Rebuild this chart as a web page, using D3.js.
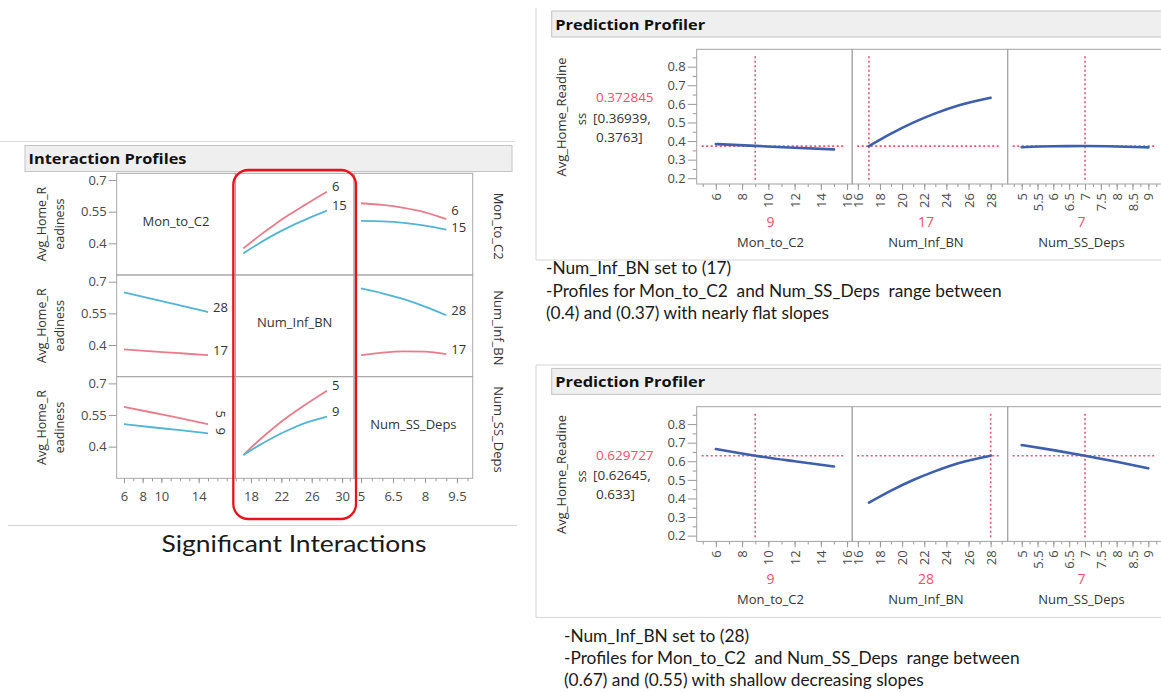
<!DOCTYPE html>
<html>
<head>
<meta charset="utf-8">
<script src="https://cdn.jsdelivr.net/npm/d3@7"></script>
<style>
  body { margin: 0; background: #fff; }
  svg { display: block; }
</style>
</head>
<body>
<script>
//---------------- DATA ----------------
// Interaction Profiles (left)
var ipFactors = ["Mon_to_C2", "Num_Inf_BN", "Num_SS_Deps"];
var ipLevels = [["6", "15"], ["17", "28"], ["5", "9"]];   // low level (red), high level (blue)
var ipDomX = [[5.22, 17.93], [15.95, 31.57], [4.67, 10.24]];
var ipTicksX = [[6, 8, 10, 14], [18, 22, 26, 30], [5, 6.5, 8, 9.5]];
var ipDomY = [0.25, 0.732];
var ipTicksY = [0.4, 0.55, 0.7];

// row Mon_to_C2 : traces at Mon_to_C2 = 6 / 15
var mon6_vsInf  = [[17, 0.376], [19, 0.433], [21, 0.486], [23, 0.535], [25, 0.58], [28, 0.645]];
var mon15_vsInf = [[17, 0.353], [19, 0.398], [21, 0.44], [23, 0.477], [25, 0.51], [28, 0.555]];
var mon6_vsSS   = [[5, 0.59], [6, 0.582], [7, 0.568], [8, 0.547], [9, 0.515]];
var mon15_vsSS  = [[5, 0.506], [6, 0.504], [7, 0.497], [8, 0.484], [9, 0.465]];
// row Num_Inf_BN : traces at Num_Inf_BN = 17 / 28
var inf17_vsMon = [[6, 0.379], [9, 0.37], [12, 0.361], [15, 0.352]];
var inf28_vsMon = [[6, 0.649], [9, 0.619], [12, 0.588], [15, 0.556]];
var inf17_vsSS  = [[5, 0.352], [6, 0.364], [7, 0.37], [8, 0.369], [9, 0.357]];
var inf28_vsSS  = [[5, 0.668], [6, 0.645], [7, 0.617], [8, 0.582], [9, 0.541]];
// row Num_SS_Deps : traces at Num_SS_Deps = 5 / 9
var ss5_vsMon = [[6, 0.589], [9, 0.562], [12, 0.535], [15, 0.507]];
var ss9_vsMon = [[6, 0.507], [9, 0.492], [12, 0.478], [15, 0.463]];
var ss5_vsInf = [[17, 0.36], [19, 0.428], [21, 0.49], [23, 0.545], [25, 0.595], [28, 0.665]];
var ss9_vsInf = [[17, 0.36], [19, 0.405], [21, 0.445], [23, 0.48], [25, 0.51], [28, 0.542]];

// Prediction Profilers (right)
var pfDomX = [[4.54, 16.39], [15.49, 29.54], [4.558, 9.47]];
var pfTicksX = [[6, 8, 10, 12, 14, 16], [16, 18, 20, 22, 24, 26, 28], [5, 5.5, 6, 6.5, 7, 7.5, 8, 8.5, 9]];
var pfDomY = [0.169, 0.8935];
var pfTicksY = [0.2, 0.3, 0.4, 0.5, 0.6, 0.7, 0.8];

var p1Settings = [9, 17, 7];
var p1Pred = 0.372845;
var p1CI = ["[0.36939,", "0.3763]"];
var p1Mon = [[6, 0.384], [9, 0.374], [12, 0.364], [15, 0.355]];
var p1Inf = [[17, 0.373], [19, 0.44], [21, 0.499], [23, 0.549], [25, 0.59], [28, 0.633]];
var p1SS  = [[5, 0.367], [6, 0.372], [7, 0.373], [8, 0.371], [9, 0.366]];
var p1Notes = ["-Num_Inf_BN set to (17)",
               "-Profiles for Mon_to_C2  and Num_SS_Deps  range between",
               "(0.4) and (0.37) with nearly flat slopes"];

var p2Settings = [9, 28, 7];
var p2Pred = 0.629727;
var p2CI = ["[0.62645,", "0.633]"];
var p2Mon = [[6, 0.666], [9, 0.63], [12, 0.6], [15, 0.572]];
var p2Inf = [[17, 0.377], [19, 0.442], [21, 0.499], [23, 0.547], [25, 0.588], [28, 0.63]];
var p2SS  = [[5, 0.687], [6, 0.66], [7, 0.63], [8, 0.597], [9, 0.562]];
var p2Notes = ["-Num_Inf_BN set to (28)",
               "-Profiles for Mon_to_C2  and Num_SS_Deps  range between",
               "(0.67) and (0.55) with shallow decreasing slopes"];

var caption = "Significant Interactions";

//---------------- STYLE ----------------
var FONT = "'Open Sans', 'Noto Sans', sans-serif";
var NOTE_FONT = "Lato, 'Open Sans', sans-serif";
var RED = "#e97c8b", BLUE = "#52b5d4";
var PF_RED = "#f0506e", PF_BLUE = "#3d5fae";

var svg = d3.select("body").append("svg")
    .attr("width", 1161)
    .attr("height", 692)
    .attr("font-family", FONT);

function hline(g, x1, x2, y, col) {
  g.append("line").attr("x1", x1).attr("x2", x2).attr("y1", y).attr("y2", y).attr("stroke", col);
}
function vline(g, x, y1, y2, col) {
  g.append("line").attr("x1", x).attr("x2", x).attr("y1", y1).attr("y2", y2).attr("stroke", col);
}
function titleBar(g, x, y, w, h, label, tl) {
  g.append("rect").attr("x", x).attr("y", y).attr("width", w).attr("height", h)
    .attr("fill", "#efefef").attr("stroke", "#c4c4c4");
  g.append("text").attr("x", x + 3.5).attr("y", y + h - 7.5)
    .attr("font-size", 15).attr("font-weight", "bold").attr("fill", "#111")
    .attr("textLength", tl).attr("lengthAdjust", "spacingAndGlyphs")
    .text(label);
}

//---------------- INTERACTION PROFILES ----------------
var ipL = 116.7, ipT = 173.3, ipCW = 118.67, ipRH = 101.67;
var ipX = ipDomX.map(function (dom, c) {
  return d3.scaleLinear().domain(dom).range([ipL + c * ipCW, ipL + (c + 1) * ipCW]);
});
var ipY = [0, 1, 2].map(function (r) {
  return d3.scaleLinear().domain(ipDomY).range([ipT + (r + 1) * ipRH, ipT + r * ipRH]);
});

var g1 = svg.append("g");
hline(g1, 0, 515, 141.5, "#dcdcdc");
hline(g1, 8, 517, 525.5, "#d4d4d4");
titleBar(g1, 25, 145.5, 487, 26, "Interaction Profiles", 158);

// cells
for (var r = 0; r < 3; r++) {
  for (var c = 0; c < 3; c++) {
    g1.append("rect")
      .attr("x", ipL + c * ipCW).attr("y", ipT + r * ipRH)
      .attr("width", ipCW).attr("height", ipRH)
      .attr("fill", "none").attr("stroke", "#a9a9a9");
  }
}

// diagonal factor names + right side names
ipFactors.forEach(function (f, i) {
  g1.append("text")
    .attr("x", ipL + (i + 0.5) * ipCW).attr("y", ipT + (i + 0.5) * ipRH - 2)
    .attr("text-anchor", "middle").attr("dominant-baseline", "middle")
    .attr("font-size", 13).attr("fill", "#333").text(f);
  g1.append("text")
    .attr("transform", "translate(497," + (ipT + (i + 0.5) * ipRH + 2) + ") rotate(90)")
    .attr("text-anchor", "middle").attr("dominant-baseline", "middle")
    .attr("font-size", 13).attr("fill", "#333").text(f);
});

// y axes + titles
ipY.forEach(function (y, r) {
  var ax = g1.append("g")
    .attr("transform", "translate(" + ipL + ",0)")
    .call(d3.axisLeft(y).tickValues(ipTicksY).tickSize(8).tickPadding(2).tickFormat(d3.format("")));
  ax.attr("font-family", FONT).attr("font-size", 13);
  ax.select(".domain").remove();
  ax.selectAll("line").attr("stroke", "#9a9a9a");
  ax.selectAll("text").attr("fill", "#4a4a4a");
  var cy = ipT + (r + 0.5) * ipRH;
  g1.append("text").attr("transform", "translate(43," + cy + ") rotate(-90)")
    .attr("text-anchor", "middle").attr("dominant-baseline", "middle")
    .attr("font-size", 12.5).attr("fill", "#333").text("Avg_Home_R");
  g1.append("text").attr("transform", "translate(61," + cy + ") rotate(-90)")
    .attr("text-anchor", "middle").attr("dominant-baseline", "middle")
    .attr("font-size", 12.5).attr("fill", "#333").text("eadiness");
});

// x axes along the bottom
var ipMinorStep = [1, 1, 0.5];
ipX.forEach(function (x, c) {
  var bottom = ipT + 3 * ipRH;
  var dom = x.domain();
  var minor = d3.range(Math.ceil(dom[0] / ipMinorStep[c]) * ipMinorStep[c], dom[1], ipMinorStep[c]);
  var mx = g1.append("g").attr("transform", "translate(0," + bottom + ")")
    .call(d3.axisBottom(x).tickValues(minor).tickSize(3).tickFormat(""));
  mx.select(".domain").remove();
  mx.selectAll("line").attr("stroke", "#9a9a9a");
  var ax = g1.append("g").attr("transform", "translate(0," + bottom + ")")
    .call(d3.axisBottom(x).tickValues(ipTicksX[c]).tickSize(5).tickPadding(8).tickFormat(d3.format("")));
  ax.attr("font-family", FONT).attr("font-size", 13);
  ax.select(".domain").remove();
  ax.selectAll("line").attr("stroke", "#9a9a9a");
  ax.selectAll("text").attr("fill", "#4a4a4a");
});

// traces
var ipTraces = [
  { r: 0, c: 1, lo: mon6_vsInf,  hi: mon15_vsInf },
  { r: 0, c: 2, lo: mon6_vsSS,   hi: mon15_vsSS },
  { r: 1, c: 0, lo: inf17_vsMon, hi: inf28_vsMon },
  { r: 1, c: 2, lo: inf17_vsSS,  hi: inf28_vsSS },
  { r: 2, c: 0, lo: ss5_vsMon,   hi: ss9_vsMon },
  { r: 2, c: 1, lo: ss5_vsInf,   hi: ss9_vsInf }
];
ipTraces.forEach(function (t) {
  var x = ipX[t.c], y = ipY[t.r];
  var line = d3.line()
    .x(function (d) { return x(d[0]); })
    .y(function (d) { return y(d[1]); })
    .curve(d3.curveMonotoneX);
  var series = [[t.lo, RED, ipLevels[t.r][0]], [t.hi, BLUE, ipLevels[t.r][1]]];
  // end label positions, pushed apart when the two ends are too close
  var ends = series.map(function (s) {
    var last = s[0][s[0].length - 1];
    return { x: x(last[0]) + 5, y: y(last[1]) - 4 };
  });
  var gap = Math.abs(ends[0].y - ends[1].y), minGap = 17;
  if (gap < minGap) {
    var up = ends[0].y < ends[1].y ? 0 : 1, push = (minGap - gap) / 2;
    ends[up].y -= push;
    ends[1 - up].y += push;
  }
  series.forEach(function (s, i) {
    g1.append("path").attr("d", line(s[0]))
      .attr("fill", "none").attr("stroke", s[1]).attr("stroke-width", 1.8);
    var lx = ends[i].x, ly = ends[i].y;
    var lab = g1.append("text").attr("font-size", 13).attr("fill", "#333")
      .attr("dominant-baseline", "middle").text(s[2]);
    if (t.r === 2 && t.c === 0) {
      lab.attr("text-anchor", "middle")
        .attr("transform", "translate(" + (lx + 6) + "," + (ly - 2) + ") rotate(90)");
    } else {
      lab.attr("x", lx).attr("y", ly);
    }
  });
});

// highlight box
g1.append("rect")
  .attr("x", 233.3).attr("y", 170).attr("width", 122.7).attr("height", 349)
  .attr("rx", 15).attr("ry", 15)
  .attr("fill", "none").attr("stroke", "#e8141c").attr("stroke-width", 2.3);

g1.append("text")
  .attr("x", 294).attr("y", 552)
  .attr("text-anchor", "middle")
  .attr("font-family", NOTE_FONT).attr("font-size", 24).attr("fill", "#1a1a1a")
  .attr("textLength", 265).attr("lengthAdjust", "spacingAndGlyphs")
  .text(caption);

//---------------- PREDICTION PROFILERS ----------------
var pfL = 696.7, pfCW = 155.5;

function drawProfiler(oy, settings, pred, ci, curves, showTop) {
  var g = svg.append("g");
  var top = 49.3 + oy, bot = 184 + oy;

  // outer frame
  if (showTop) hline(g, 536, 1161, 7.6 + oy, "#d4d4d4");
  vline(g, 536, 7.6 + oy, 260 + oy, "#d4d4d4");
  hline(g, 536, 1161, 260 + oy, "#d4d4d4");
  titleBar(g, 551.7, 11 + oy, 640, 26, "Prediction Profiler", 150);

  var y = d3.scaleLinear().domain(pfDomY).range([bot, top]);
  var xs = pfDomX.map(function (dom, c) {
    return d3.scaleLinear().domain(dom).range([pfL + c * pfCW, pfL + (c + 1) * pfCW]);
  });

  // y axis
  var my = g.append("g").attr("transform", "translate(" + pfL + ",0)")
    .call(d3.axisLeft(y).tickValues(d3.range(0.25, 0.86, 0.1)).tickSize(4).tickFormat(""));
  my.select(".domain").remove();
  my.selectAll("line").attr("stroke", "#9a9a9a");
  var ay = g.append("g").attr("transform", "translate(" + pfL + ",0)")
    .call(d3.axisLeft(y).tickValues(pfTicksY).tickSize(9).tickPadding(2).tickFormat(d3.format(".1f")));
  ay.attr("font-family", FONT).attr("font-size", 13);
  ay.select(".domain").remove();
  ay.selectAll("line").attr("stroke", "#9a9a9a");
  ay.selectAll("text").attr("fill", "#4a4a4a");

  // y title and prediction
  g.append("text").attr("transform", "translate(563," + (117 + oy) + ") rotate(-90)")
    .attr("text-anchor", "middle").attr("dominant-baseline", "middle")
    .attr("font-size", 13).attr("fill", "#333").text("Avg_Home_Readine");
  g.append("text").attr("transform", "translate(583," + (119 + oy) + ") rotate(-90)")
    .attr("text-anchor", "middle").attr("dominant-baseline", "middle")
    .attr("font-size", 13).attr("fill", "#333").text("ss");
  g.append("text").attr("x", 596).attr("y", 98.5 + oy).attr("dominant-baseline", "middle")
    .attr("font-size", 13.5).attr("fill", PF_RED).text(d3.format(".6f")(pred));
  g.append("text").attr("x", 593).attr("y", 119 + oy).attr("dominant-baseline", "middle")
    .attr("font-size", 13.5).attr("fill", "#333").text(ci[0]);
  g.append("text").attr("x", 596).attr("y", 138 + oy).attr("dominant-baseline", "middle")
    .attr("font-size", 13.5).attr("fill", "#333").text(ci[1]);

  xs.forEach(function (x, c) {
    var x0 = pfL + c * pfCW, x1 = x0 + pfCW;
    g.append("rect").attr("x", x0).attr("y", top).attr("width", pfCW).attr("height", bot - top)
      .attr("fill", "none").attr("stroke", "#a3a3a3");

    // x axis
    var ticks = pfTicksX[c];
    var step = (ticks[1] - ticks[0]) / 2;
    var dom = x.domain();
    var minor = d3.range(Math.ceil(dom[0] / step) * step, dom[1], step);
    var mx = g.append("g").attr("transform", "translate(0," + bot + ")")
      .call(d3.axisBottom(x).tickValues(minor).tickSize(3).tickFormat(""));
    mx.select(".domain").remove();
    mx.selectAll("line").attr("stroke", "#9a9a9a");
    var ax = g.append("g").attr("transform", "translate(0," + bot + ")")
      .call(d3.axisBottom(x).tickValues(ticks).tickSize(6).tickFormat(d3.format("")));
    ax.attr("font-family", FONT).attr("font-size", 13);
    ax.select(".domain").remove();
    ax.selectAll("line").attr("stroke", "#9a9a9a");
    ax.selectAll("text")
      .attr("transform", "rotate(-90)")
      .attr("text-anchor", "end")
      .attr("x", -9).attr("y", 0).attr("dy", "0.35em")
      .attr("fill", "#4a4a4a");

    // reference lines
    g.append("line").attr("x1", x0 + 5).attr("x2", x1 - 8)
      .attr("y1", y(pred)).attr("y2", y(pred))
      .attr("stroke", PF_RED).attr("stroke-width", 1.6).attr("stroke-dasharray", "2,2.5");
    g.append("line").attr("x1", x(settings[c])).attr("x2", x(settings[c]))
      .attr("y1", top + 7).attr("y2", bot - 2)
      .attr("stroke", PF_RED).attr("stroke-width", 1.6).attr("stroke-dasharray", "2,2.5");

    // profile trace
    var line = d3.line()
      .x(function (d) { return x(d[0]); })
      .y(function (d) { return y(d[1]); })
      .curve(d3.curveMonotoneX);
    g.append("path").attr("d", line(curves[c]))
      .attr("fill", "none").attr("stroke", PF_BLUE).attr("stroke-width", 2.6)
      .attr("stroke-linecap", "round");

    // current setting + factor name
    var cx = (x0 + x1) / 2;
    g.append("text").attr("x", cx - 4).attr("y", 223 + oy)
      .attr("text-anchor", "middle").attr("dominant-baseline", "middle")
      .attr("font-size", 14).attr("fill", PF_RED).text(settings[c]);
    g.append("text").attr("x", cx - 4).attr("y", 243.5 + oy)
      .attr("text-anchor", "middle").attr("dominant-baseline", "middle")
      .attr("font-size", 13).attr("fill", "#333").text(ipFactors[c]);
  });
}

drawProfiler(0, p1Settings, p1Pred, p1CI, [p1Mon, p1Inf, p1SS], false);
drawProfiler(357.4, p2Settings, p2Pred, p2CI, [p2Mon, p2Inf, p2SS], true);

// notes under each profiler
function notes(lines, x, ys) {
  lines.forEach(function (t, i) {
    svg.append("text").attr("x", x).attr("y", ys[i])
      .attr("dominant-baseline", "middle")
      .attr("font-family", NOTE_FONT).attr("font-size", 17.3).attr("fill", "#1a1a1a")
      .attr("xml:space", "preserve")
      .text(t);
  });
}
notes(p1Notes, 546, [270, 293, 315]);
notes(p2Notes, 564, [638, 660, 682]);
</script>
</body>
</html>
